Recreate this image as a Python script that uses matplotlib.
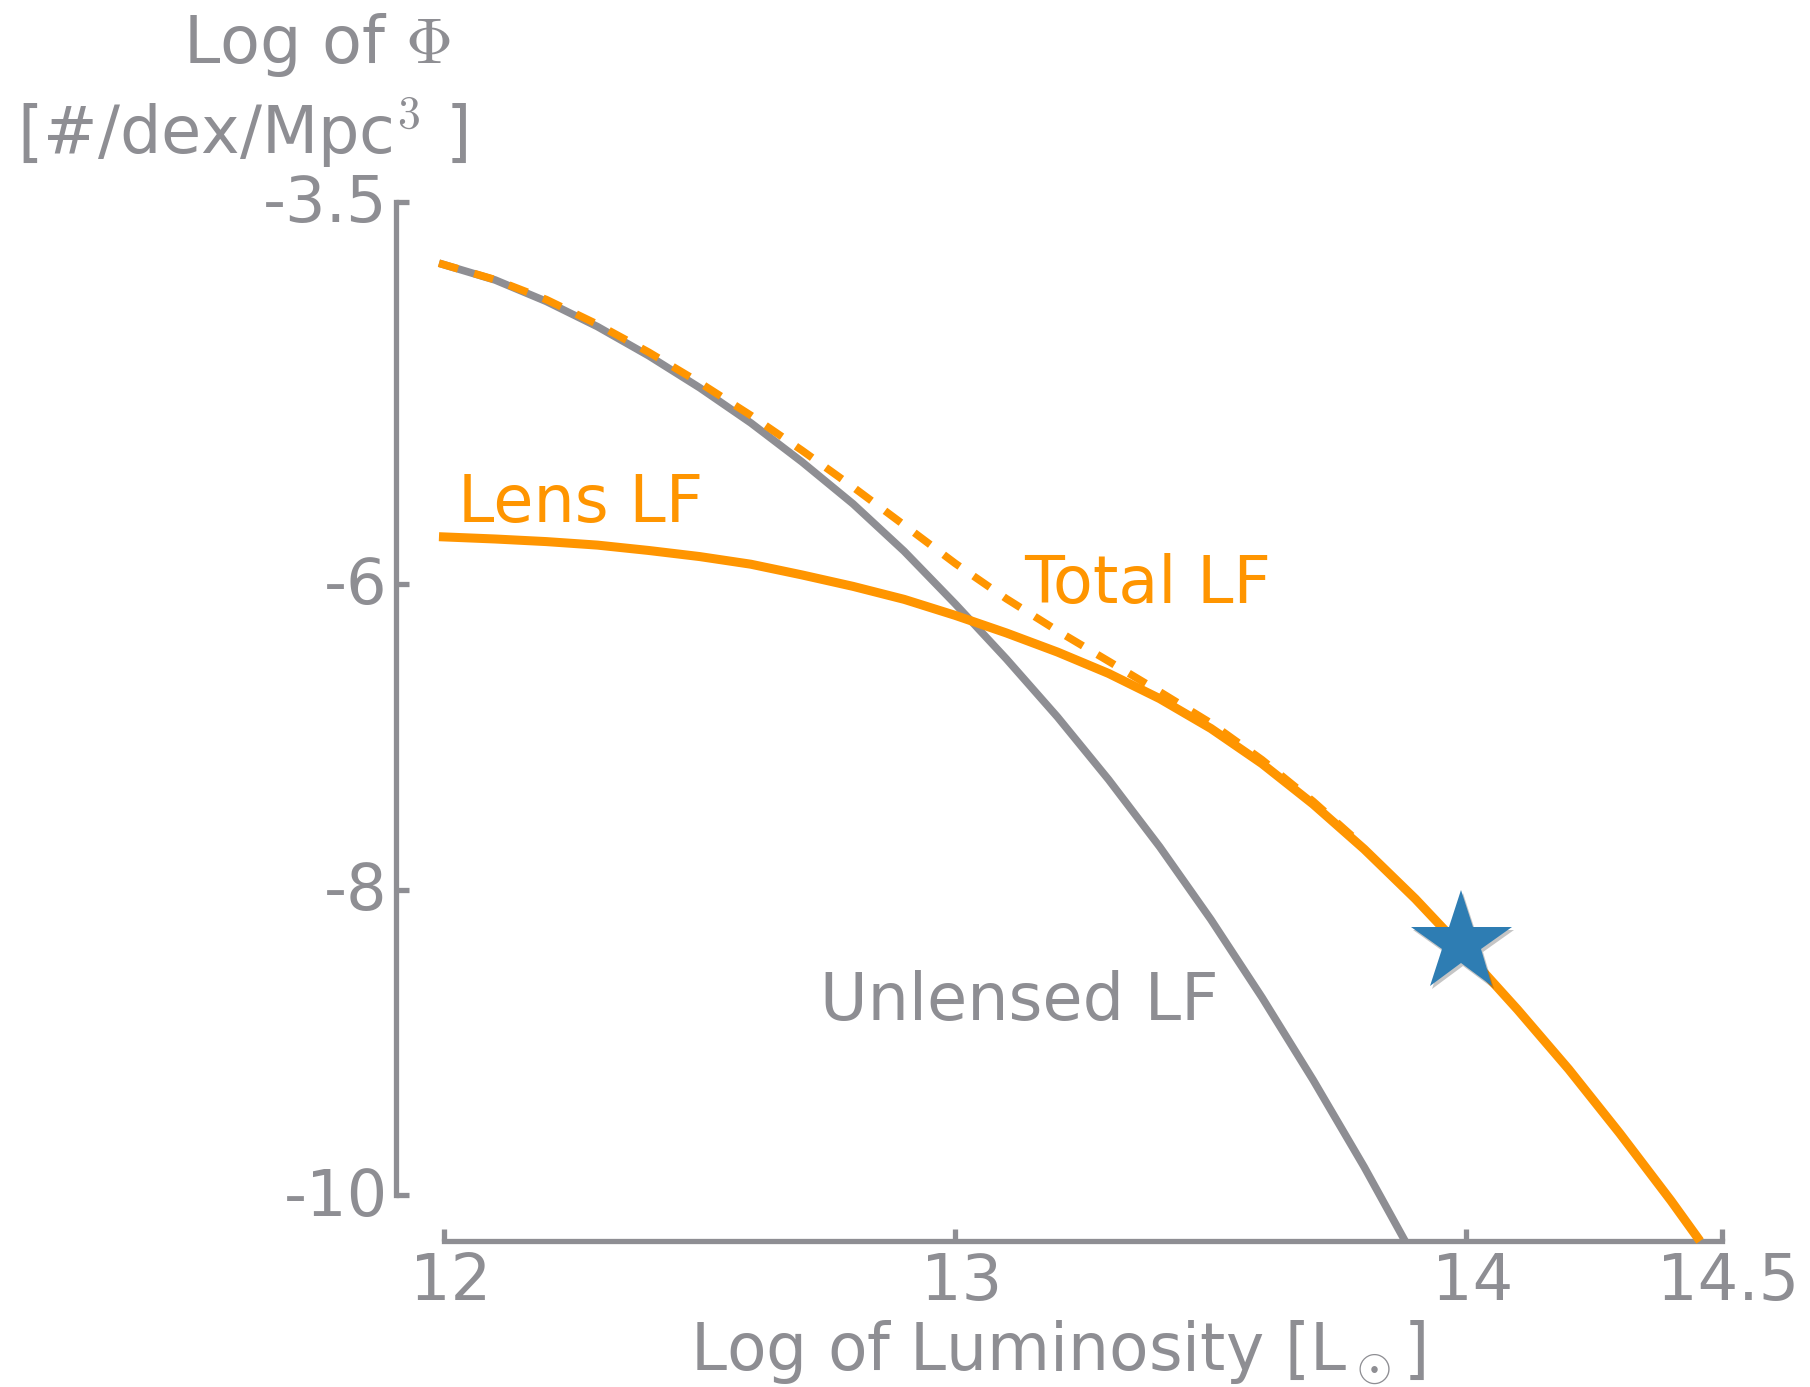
import matplotlib
matplotlib.use("Agg")
import matplotlib.pyplot as plt
import matplotlib.patheffects as pe
from matplotlib.transforms import ScaledTranslation

plt.rcParams['mathtext.fontset'] = 'cm'
plt.rcParams['font.family'] = 'DejaVu Sans'

GRAY = '#8e8e93'
ORANGE = '#ff9500'
BLUE = '#2e7db3'

# log L [Lsun] and log Phi [#/dex/Mpc^3]
lum_unlensed = [11.99, 12.1, 12.2, 12.3, 12.4, 12.5, 12.6, 12.7, 12.8, 12.9, 13.0,
                13.1, 13.2, 13.3, 13.4, 13.5, 13.6, 13.7, 13.8, 13.88]
phi_unlensed = [-3.90, -4.01, -4.15, -4.315, -4.505, -4.715, -4.945, -5.20, -5.475, -5.785, -6.13,
                -6.49, -6.87, -7.28, -7.72, -8.195, -8.705, -9.245, -9.815, -10.30]

lum_lens = [11.99, 12.1, 12.2, 12.3, 12.4, 12.5, 12.6, 12.7, 12.8, 12.9, 13.0, 13.1, 13.2,
            13.3, 13.4, 13.5, 13.6, 13.7, 13.8, 13.9, 14.0, 14.1, 14.2, 14.3, 14.4, 14.457]
phi_lens = [-5.69, -5.705, -5.722, -5.745, -5.78, -5.82, -5.87, -5.94, -6.015, -6.10, -6.205, -6.32, -6.445,
            -6.585, -6.75, -6.945, -7.175, -7.44, -7.735, -8.06, -8.415, -8.785, -9.175, -9.595, -10.035, -10.30]

lum_total = [11.99, 12.1, 12.2, 12.3, 12.4, 12.5, 12.6, 12.7, 12.8, 12.9, 13.0,
             13.1, 13.2, 13.3, 13.4, 13.5, 13.6, 13.7, 13.8]
phi_total = [-3.90, -4.008, -4.138, -4.30, -4.482, -4.682, -4.896, -5.125, -5.365, -5.614, -5.865,
             -6.096, -6.306, -6.505, -6.705, -6.91, -7.15, -7.422, -7.72]

star_lum = [13.99]
star_phi = [-8.35]

xticks = [12, 13, 14, 14.5]
xticklabels = ['12', '13', '14', '14.5']
yticks = [-10, -8, -6, -3.5]
yticklabels = ['-10', '-8', '-6', '-3.5']

fig = plt.figure(figsize=(18.10, 13.87), dpi=100)
ax = fig.add_axes([0.2188, 0.1052, 0.7326, 0.7491])

ax.plot(lum_unlensed, phi_unlensed, color=GRAY, lw=5.5, solid_capstyle='butt', clip_on=False, zorder=2)
ax.plot(lum_total, phi_total, color=ORANGE, lw=5.5, dashes=(2.6, 2.2), dash_capstyle='butt', zorder=3)
ax.plot(lum_lens, phi_lens, color=ORANGE, lw=6.5, solid_capstyle='butt', clip_on=False, zorder=4)
ax.plot(star_lum, star_phi, marker='*', ms=76, color=BLUE, mec='none', ls='none', zorder=5,
        path_effects=[pe.SimplePatchShadow(offset=(1.5, -2), shadow_rgbFace='0.25', alpha=0.3), pe.Normal()])

ax.text(12.027, -5.596, 'Lens LF', color=ORANGE, fontsize=47, va='baseline')
ax.text(13.134, -6.126, 'Total LF', color=ORANGE, fontsize=47, va='baseline')
ax.text(12.735, -8.85, 'Unlensed LF', color=GRAY, fontsize=47, va='baseline')

ax.set_xlim(11.906, 14.5)
ax.set_ylim(-10.30, -3.5)
ax.set_xticks(xticks)
ax.set_xticklabels(xticklabels)
ax.set_yticks(yticks)
ax.set_yticklabels(yticklabels)

for side in ['top', 'right']:
    ax.spines[side].set_visible(False)
for side in ['left', 'bottom']:
    ax.spines[side].set_color(GRAY)
    ax.spines[side].set_linewidth(3.8)
ax.spines['left'].set_bounds(-10, -3.5)
ax.spines['bottom'].set_bounds(12, 14.5)
ax.tick_params(direction='in', length=9, width=3.8, color=GRAY, labelcolor=GRAY, labelsize=46)
ax.tick_params(axis='x', pad=7)
ax.tick_params(axis='y', pad=6)

# nudge tick labels a little
for lab in ax.get_xticklabels():
    lab.set_transform(lab.get_transform() + ScaledTranslation(4.5 / 72, 0, fig.dpi_scale_trans))
for lab in ax.get_yticklabels():
    lab.set_transform(lab.get_transform() + ScaledTranslation(0, 3 / 72, fig.dpi_scale_trans))

fig.text(0.584, 0.0115, r'Log of Luminosity [L$_\odot$]', color=GRAY, fontsize=46.5, ha='center', va='baseline')
fig.text(0.2486, 0.9546, r'Log of $\Phi$', color=GRAY, fontsize=47, ha='right', va='baseline')
fig.text(0.258, 0.889, r'[#/dex/Mpc$^3$ ]', color=GRAY, fontsize=47, ha='right', va='baseline')

fig.savefig('out.png', dpi=100)
